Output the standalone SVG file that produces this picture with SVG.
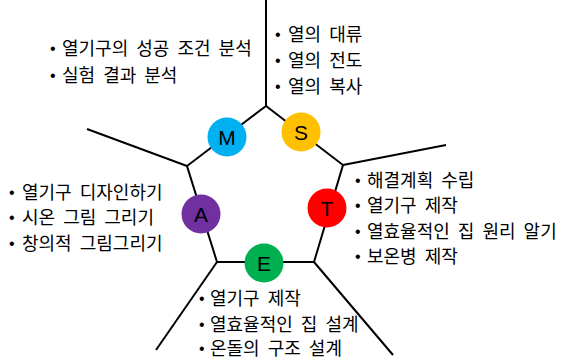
<svg xmlns="http://www.w3.org/2000/svg" width="561" height="359" viewBox="0 0 561 359">
<style>
.ln{stroke:#000;stroke-width:2;fill:none}
.t{font-family:"Noto Sans CJK KR","Noto Sans",sans-serif;font-size:18px;fill:#000;word-spacing:4px}
.b{font-family:"Liberation Sans",sans-serif;font-size:16px;fill:#000}
.L{font-family:"Liberation Sans","Noto Sans",sans-serif;font-size:21px;fill:#000;text-anchor:middle}
</style>
<rect width="561" height="359" fill="#fff"/>
<g id="connectors">
<path class="ln" d="M266,106 L187,166 L217,262 L314,262 L343,165 Z"/>
<path class="ln" d="M266,106 L266,0"/>
<path class="ln" d="M187,166 L87,129"/>
<path class="ln" d="M343,165 L446,145"/>
<path class="ln" d="M217,262 L156,350"/>
<path class="ln" d="M314,262 L393,355"/>
</g>
<g id="node-M">
<circle cx="227" cy="137" r="19.5" fill="#00B0F0"/>
<text class="L" x="227" y="144.5">M</text>
</g>
<g id="node-S">
<circle cx="301" cy="132" r="19.5" fill="#FFC000"/>
<text class="L" x="301" y="139.5">S</text>
</g>
<g id="node-T">
<circle cx="327" cy="208" r="19.5" fill="#FF0000"/>
<text class="L" x="327" y="215.5">T</text>
</g>
<g id="node-A">
<circle cx="201" cy="214" r="19.5" fill="#7030A0"/>
<text class="L" x="201" y="221.5">A</text>
</g>
<g id="node-E">
<circle cx="264" cy="263" r="19.5" fill="#00B050"/>
<text class="L" x="264" y="270.5">E</text>
</g>
<g id="text-M">
<text class="b" x="50" y="54">•</text><text class="t" x="62" y="55">열기구의 성공 조건 분석</text>
<text class="b" x="50" y="81">•</text><text class="t" x="62" y="82">실험 결과 분석</text>
</g>
<g id="text-S">
<text class="b" x="275" y="40">•</text><text class="t" x="288" y="41">열의 대류</text>
<text class="b" x="275" y="66">•</text><text class="t" x="288" y="67">열의 전도</text>
<text class="b" x="275" y="92">•</text><text class="t" x="288" y="93">열의 복사</text>
</g>
<g id="text-T">
<text class="b" x="355" y="186">•</text><text class="t" x="367" y="187">해결계획 수립</text>
<text class="b" x="355" y="211">•</text><text class="t" x="367" y="212">열기구 제작</text>
<text class="b" x="355" y="237">•</text><text class="t" x="367" y="238">열효율적인 집 원리 알기</text>
<text class="b" x="355" y="262">•</text><text class="t" x="367" y="263">보온병 제작</text>
</g>
<g id="text-A">
<text class="b" x="9" y="198">•</text><text class="t" x="22" y="199">열기구 디자인하기</text>
<text class="b" x="9" y="223">•</text><text class="t" x="22" y="224">시온 그림 그리기</text>
<text class="b" x="9" y="249">•</text><text class="t" x="22" y="250">창의적 그림그리기</text>
</g>
<g id="text-E">
<text class="b" x="199" y="304">•</text><text class="t" x="210" y="305">열기구 제작</text>
<text class="b" x="199" y="330">•</text><text class="t" x="210" y="331">열효율적인 집 설계</text>
<text class="b" x="199" y="354">•</text><text class="t" x="210" y="355">온돌의 구조 설계</text>
</g>
</svg>
